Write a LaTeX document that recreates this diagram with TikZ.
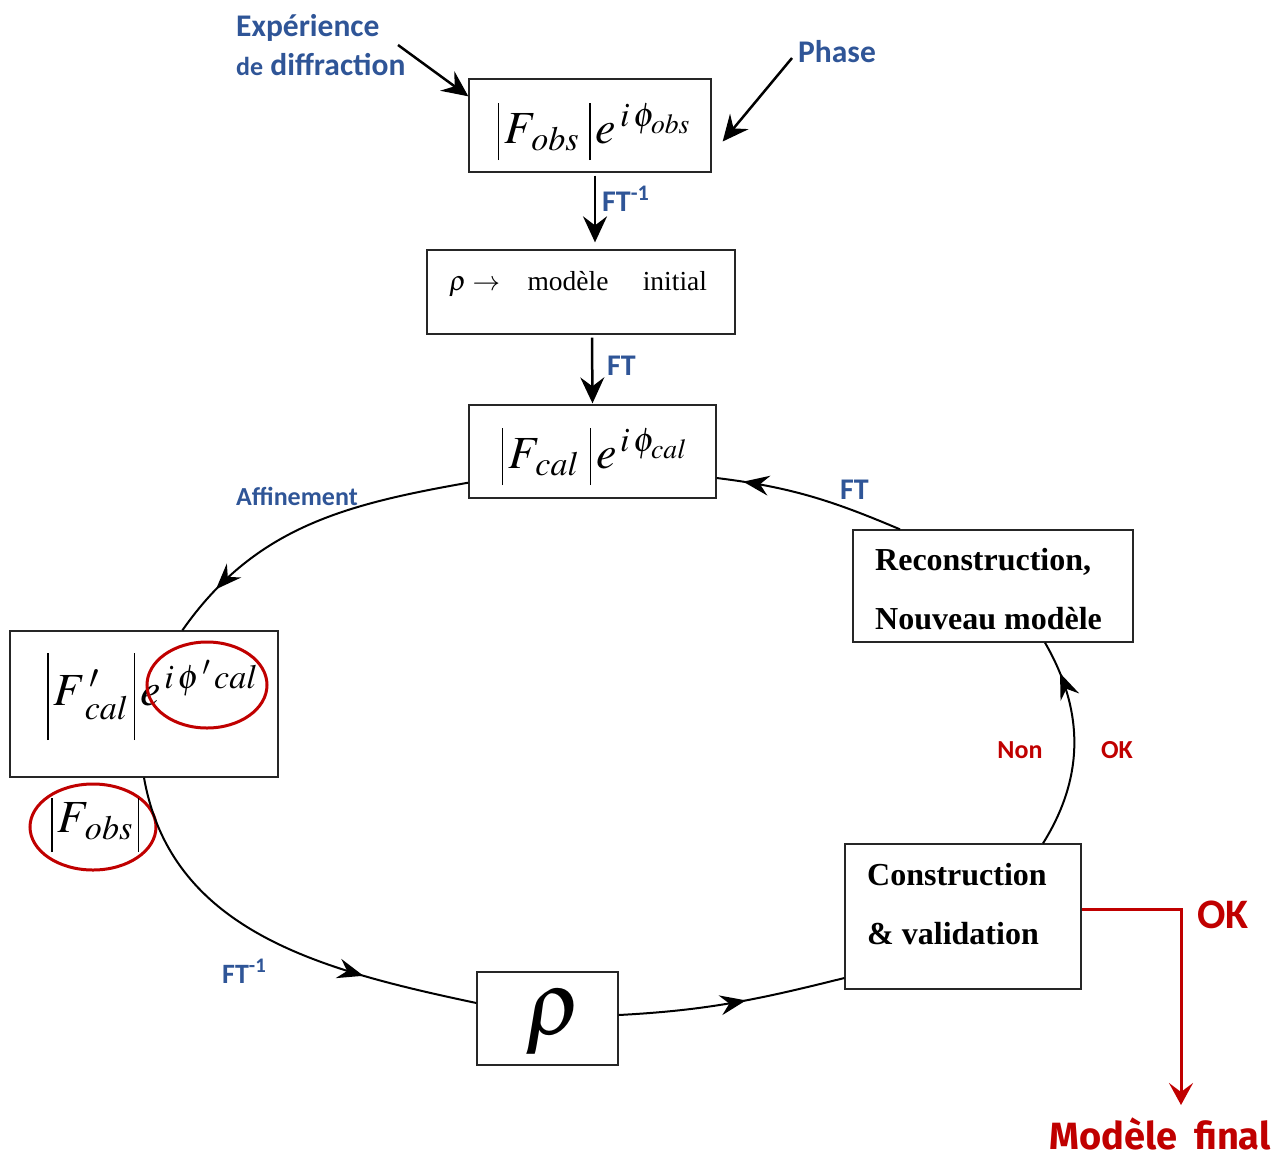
\documentclass[tikz,border=0pt]{standalone}
\usepackage{mathptmx}
\usepackage{fontspec}
\setmainfont{Liberation Serif}
\newfontfamily\lblfont{Carlito}
\newfontfamily\finalfont{Fira Sans}
\usetikzlibrary{arrows.meta,decorations.markings,calc,shapes.geometric}
\definecolor{lblue}{RGB}{47,85,151}
\definecolor{dred}{RGB}{192,0,0}
\newcommand\mybar[2]{\vrule height#1 depth#2 width1.4pt}
\tikzset{
  box/.style={draw=black!85, line width=1.3pt, inner sep=0pt},
  lbl/.style={font=\lblfont\bfseries\fontsize{26}{30}\selectfont, text=lblue, inner sep=0pt},
  biglbl/.style={font=\lblfont\bfseries\fontsize{31.5}{34}\selectfont, text=lblue, inner sep=0pt, anchor=base west},
  ftlbl/.style={font=\lblfont\bfseries\fontsize{30}{32}\selectfont, text=lblue, inner sep=0pt, anchor=base west},
  redlbl/.style={font=\lblfont\bfseries\fontsize{26}{30}\selectfont, text=dred, inner sep=0pt},
  boxtxt/.style={font=\bfseries\fontsize{32}{38}\selectfont, inner sep=0pt, anchor=base west},
  mathtxt/.style={font=\fontsize{46}{48}\selectfont, inner sep=0pt},
  cyc/.style={line width=2pt},
  sarrow/.style={line width=2.5pt, -{Stealth[length=26pt,width=24pt,inset=9pt]}},
  midarrow/.style={postaction={decorate}, decoration={markings, mark=at position #1 with {\arrow{Stealth[length=26pt,width=20pt,inset=9pt]}}}},
  redell/.style={draw=dred, line width=3pt, ellipse, inner sep=0pt},
}
\begin{document}
\begin{tikzpicture}[x=1pt,y=1pt]
\useasboundingbox (0,0) rectangle (1285,-1157);
% boxes
\node[box, mathtxt, minimum width=242, text height=64pt, text depth=29pt] (fobs) at (590,-125.5)
  {\hspace{8pt}$\mybar{40pt}{17pt}\,F_{\,obs}\;\mybar{40pt}{17pt}\,e^{\,i\,\phi_{obs}}$};
\node[box, minimum width=308, text height=40pt, text depth=44pt, font=\fontsize{27.5}{30}\selectfont] (init) at (581,-292)
  {\hspace{-6pt}$\rho\rightarrow$\quad modèle\quad\ initial};
\node[box, mathtxt, minimum width=247, text height=63pt, text depth=30pt] (fcal) at (592.5,-451.5)
  {\hspace{4pt}$\mybar{40pt}{17pt}\,F_{\,cal}\;\mybar{40pt}{17pt}\,e^{\,i\,\phi_{cal}}$};
\node[box, minimum width=268, minimum height=146] (fpcal) at (144,-704) {};
\node[mathtxt, anchor=base west] (fpcaltxt) at (47,-705)
  {$\mybar{52pt}{35pt}\,F^{\,\prime}_{\;cal}\,\mybar{52pt}{35pt}\,e^{\,i\,\phi^{\,\prime}\,cal}$};
\node[box, minimum width=280, minimum height=112] (recon) at (993,-586) {};
\node[boxtxt] (recon1) at (875,-570) {Reconstruction,};
\node[boxtxt] (recon2) at (875,-629) {Nouveau modèle};
\node[box, minimum width=236, minimum height=145] (constr) at (963,-916.5) {};
\node[boxtxt] (constr1) at (867,-885) {Construction};
\node[boxtxt] (constr2) at (867,-944) {\&\ validation};
\node[box, minimum width=141, text height=62pt, text depth=31pt, font=\fontsize{90}{92}\selectfont] (rho) at (547.5,-1018.5)
  {\hspace{12pt}$\rho$};
% red ellipses
\node[redell, minimum width=120, minimum height=86] (ell1) at (207,-685) {};
\node[redell, minimum width=126, minimum height=86] (fobsell) at (93,-827) {};
\node[mathtxt, anchor=base west] (fobssmall) at (51,-832)
  {$\mybar{34pt}{20pt}\,F_{\,obs}\,\mybar{34pt}{20pt}$};
% top labels
\node[biglbl] (exp1) at (236,-36) {Expérience};
\node[biglbl] (exp2) at (236,-75) {{\fontsize{26}{30}\selectfont de} diffraction};
\coordinate (expstart) at (398,-45);
\draw[sarrow] (expstart) -- ($(fobs.north west)+(0,-18)$);
\node[biglbl] (phase) at (798,-62) {Phase};
\coordinate (phstart) at (792,-58);
\draw[sarrow] (phstart) -- ($(fobs.east)+(11,-16)$);
% vertical arrows
\draw[sarrow] ($(fobs.south)+(5,-3)$) -- ($(init.north)+(14,7)$);
\node[ftlbl] (ft1) at (602,-211) {FT\textsuperscript{-1}};
\draw[sarrow] ($(init.south)+(11,-3)$) -- ($(fcal.north)+(0,1)$);
\node[ftlbl] (ft2) at (607,-375) {FT};
% cycle
\draw[cyc, midarrow=0.84] ($(fcal.south west)+(0,16)$) to[out=190,in=55] ($(fpcal.north west)+(173,0)$);
\node[lbl, anchor=base west] (aff) at (236,-505) {Affinement};
\draw[cyc, midarrow=0.73] (fpcal.south) to[out=-80,in=168] ($(rho.west)+(0,15.5)$);
\node[ftlbl, font=\lblfont\bfseries\fontsize{28}{30}\selectfont] (ft3) at (222,-983) {FT\textsuperscript{-1}};
\draw[cyc, midarrow=0.56] ($(rho.east)+(0,3.5)$) to[out=3,in=194] ($(constr.west)+(0,-61.5)$);
\draw[cyc, midarrow=0.84] ($(constr.north)+(80,0)$) to[out=58,in=-60] ($(recon.south)+(52,0)$);
\node[redlbl] (non) at (1020,-750) {Non};
\node[redlbl] (ok1) at (1117,-750) {OK};
\draw[cyc, midarrow=0.86] ($(recon.north)+(-93,0)$) to[out=157,in=-7] ($(fcal.east)+(0,-26.5)$);
\node[ftlbl] (ft4) at (840,-499) {FT};
% final
\coordinate (finalend) at (1181,-1105);
\draw[dred, line width=3pt, -{Stealth[length=22pt,width=24pt,inset=9pt]}] ($(constr.east)+(0,7.5)$) -| (finalend);
\node[redlbl, font=\lblfont\bfseries\fontsize{42}{44}\selectfont] (ok2) at (1223,-915) {OK};
\node[text=dred, font=\finalfont\bfseries\fontsize{38}{40}\selectfont, inner sep=0pt, anchor=base] (final) at (1160,-1149) {Modèle\hspace{0.45em}final};
\end{tikzpicture}
\end{document}
